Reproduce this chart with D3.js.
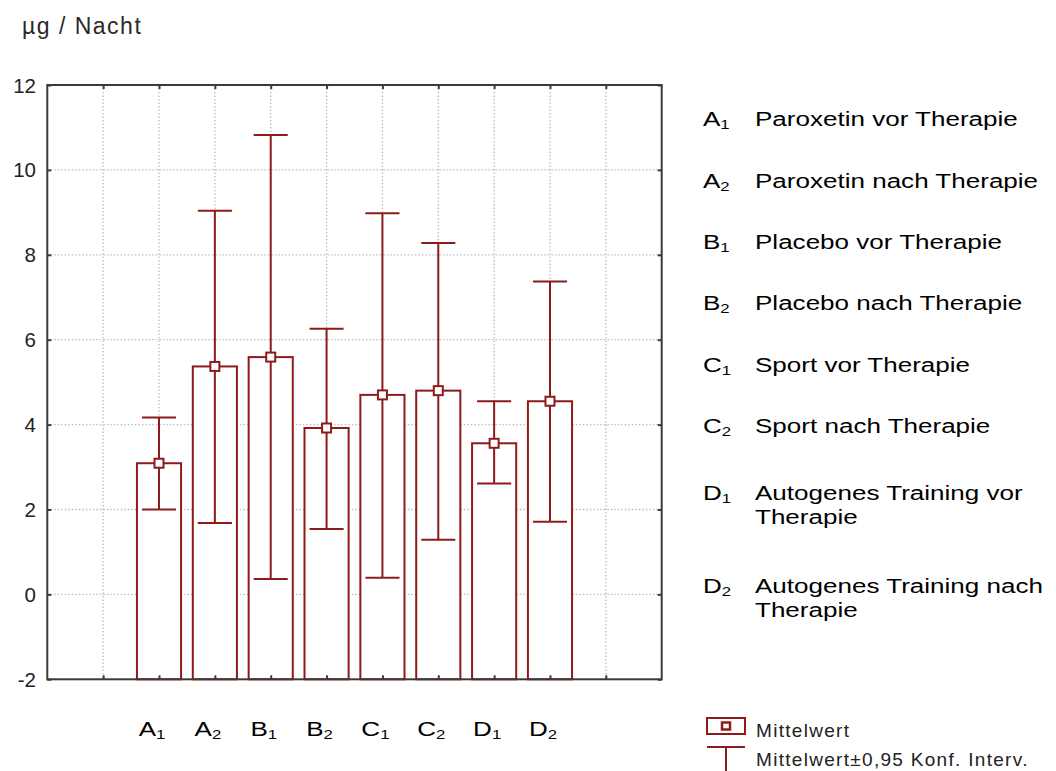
<!DOCTYPE html>
<html>
<head>
<meta charset="utf-8">
<script src="https://cdn.jsdelivr.net/npm/d3@7"></script>
<style>
  html, body { margin: 0; padding: 0; background: #fff; }
  svg { display: block; }
</style>
</head>
<body>
<svg id="chart" width="1056" height="771"></svg>
<script>
// ---- data ----
const categories = ["A1", "A2", "B1", "B2", "C1", "C2", "D1", "D2"];
const means  = [3.09, 5.37, 5.59, 3.92, 4.70, 4.80, 3.56, 4.55];
const ciLow  = [2.00, 1.68, 0.36, 1.54, 0.39, 1.29, 2.61, 1.71];
const ciHigh = [4.17, 9.04, 10.82, 6.26, 8.98, 8.28, 4.55, 7.37];
const yTicks = [-2, 0, 2, 4, 6, 8, 10, 12];
const xGridPositions = [1, 2, 3, 4, 5, 6, 7, 8, 9, 10];
const descriptions = [
  ["Paroxetin vor Therapie"],
  ["Paroxetin nach Therapie"],
  ["Placebo vor Therapie"],
  ["Placebo nach Therapie"],
  ["Sport vor Therapie"],
  ["Sport nach Therapie"],
  ["Autogenes Training vor", "Therapie"],
  ["Autogenes Training nach", "Therapie"]
];
const yTitle = "µg / Nacht";
const legendMean = "Mittelwert";
const legendCI = "Mittelwert±0,95 Konf. Interv.";

// ---- layout ----
const RED = "#8e1b1b";
const AXIS = "#3a3a3a";
const GRID = "#bdbdbd";
const FONT = "Liberation Sans, Arial, sans-serif";
const SX = 1.24; // horizontal stretch of the annotation text
const pLeft = 47.3, pRight = 661.7, pTop = 85, pBottom = 679.3;

const svg = d3.select("#chart");
const x = d3.scaleLinear().domain([0, 11]).range([pLeft, pRight]);
const y = d3.scaleLinear().domain([-2, 12]).range([pBottom, pTop]);
const catPos = i => x(i + 2);
const barW = x(0.79) - x(0);
const capW = x(0.61) - x(0);

// gridlines
const g = svg.append("g");
g.selectAll("line.hg").data(yTicks.filter(v => v > -2 && v < 12)).join("line")
  .attr("x1", pLeft).attr("x2", pRight)
  .attr("y1", d => y(d)).attr("y2", d => y(d))
  .attr("stroke", GRID).attr("stroke-width", 1.3).attr("stroke-dasharray", "1.5,2");
g.selectAll("line.vg").data(xGridPositions).join("line")
  .attr("y1", pTop).attr("y2", pBottom)
  .attr("x1", d => x(d)).attr("x2", d => x(d))
  .attr("stroke", GRID).attr("stroke-width", 1.3).attr("stroke-dasharray", "1.5,2");

// bars
const idx = d3.range(categories.length);
svg.append("g").selectAll("rect").data(idx).join("rect")
  .attr("x", i => catPos(i) - barW / 2)
  .attr("width", barW)
  .attr("y", i => y(means[i]))
  .attr("height", i => y(-2) - y(means[i]))
  .attr("fill", "#fff")
  .attr("stroke", RED).attr("stroke-width", 2);

// whiskers
const w = svg.append("g").attr("stroke", RED).attr("stroke-width", 2);
w.selectAll("line.v").data(idx).join("line")
  .attr("x1", i => catPos(i)).attr("x2", i => catPos(i))
  .attr("y1", i => y(ciLow[i])).attr("y2", i => y(ciHigh[i]));
w.selectAll("line.lo").data(idx).join("line")
  .attr("x1", i => catPos(i) - capW / 2).attr("x2", i => catPos(i) + capW / 2)
  .attr("y1", i => y(ciLow[i])).attr("y2", i => y(ciLow[i]));
w.selectAll("line.hi").data(idx).join("line")
  .attr("x1", i => catPos(i) - capW / 2).attr("x2", i => catPos(i) + capW / 2)
  .attr("y1", i => y(ciHigh[i])).attr("y2", i => y(ciHigh[i]));

// mean markers
svg.append("g").selectAll("rect").data(idx).join("rect")
  .attr("x", i => catPos(i) - 4.5).attr("y", i => y(means[i]) - 4.5)
  .attr("width", 9).attr("height", 9)
  .attr("fill", "#fff").attr("stroke", RED).attr("stroke-width", 2);

// frame
svg.append("rect").attr("x", pLeft).attr("y", pTop)
  .attr("width", pRight - pLeft).attr("height", pBottom - pTop)
  .attr("fill", "none").attr("stroke", AXIS).attr("stroke-width", 2);

// axis ticks (inward)
const yAxisL = d3.axisLeft(y).tickValues(yTicks).tickSize(-4).tickFormat("");
const yAxisR = d3.axisRight(y).tickValues(yTicks).tickSize(-4).tickFormat("");
const xAxisB = d3.axisBottom(x).tickValues(xGridPositions).tickSize(-4).tickFormat("");
const xAxisT = d3.axisTop(x).tickValues(xGridPositions).tickSize(-4).tickFormat("");
function styleAxis(sel) {
  sel.select(".domain").remove();
  sel.selectAll(".tick line").attr("stroke", AXIS).attr("stroke-width", 2);
}
svg.append("g").attr("transform", `translate(${pLeft},0)`).call(yAxisL).call(styleAxis);
svg.append("g").attr("transform", `translate(${pRight},0)`).call(yAxisR).call(styleAxis);
svg.append("g").attr("transform", `translate(0,${pBottom})`).call(xAxisB).call(styleAxis);
svg.append("g").attr("transform", `translate(0,${pTop})`).call(xAxisT).call(styleAxis);

// y tick labels
svg.append("g").selectAll("text").data(yTicks).join("text")
  .attr("x", 36).attr("y", d => y(d) + 7.5)
  .attr("text-anchor", "end")
  .attr("font-family", FONT)
  .attr("font-size", 20.5).attr("fill", "#222")
  .text(d => d);

// y title
svg.append("text").attr("x", 22).attr("y", 34)
  .attr("font-family", FONT)
  .attr("font-size", 23).attr("letter-spacing", 1.5).attr("fill", "#2a2a2a")
  .text(yTitle);

// x category labels with subscripts (stretched)
const xl = svg.append("g").selectAll("g").data(idx).join("g")
  .attr("transform", i => `translate(${catPos(i) - 7},736) scale(${SX},1)`)
  .append("text")
  .attr("text-anchor", "middle")
  .attr("font-family", FONT)
  .attr("font-size", 21).attr("fill", "#000");
xl.append("tspan").text(i => categories[i][0]);
xl.append("tspan").attr("font-size", 13.5).attr("dy", 3).text(i => categories[i].slice(1));

// right legend of categories (stretched)
const rowY = [126, 187.5, 249, 310, 371.5, 433, 500, 593];
const leg = svg.append("g")
  .attr("font-family", FONT)
  .attr("font-size", 21).attr("fill", "#000");
idx.forEach(i => {
  const code = leg.append("g").attr("transform", `translate(703,${rowY[i]}) scale(${SX},1)`)
    .append("text");
  code.append("tspan").text(categories[i][0]);
  code.append("tspan").attr("font-size", 13.5).attr("dy", 3).text(categories[i].slice(1));
  descriptions[i].forEach((line, k) => {
    leg.append("g").attr("transform", `translate(755,${rowY[i] + k * 23.5}) scale(${SX},1)`)
      .append("text").text(line);
  });
});

// bottom legend (mean / CI)
const bl = svg.append("g");
bl.append("rect").attr("x", 707).attr("y", 718).attr("width", 38).attr("height", 16)
  .attr("fill", "#fff").attr("stroke", RED).attr("stroke-width", 2);
bl.append("rect").attr("x", 722).attr("y", 722.5).attr("width", 8).attr("height", 7)
  .attr("fill", "#fff").attr("stroke", RED).attr("stroke-width", 2.5);
bl.append("line").attr("x1", 707).attr("x2", 745).attr("y1", 747).attr("y2", 747)
  .attr("stroke", RED).attr("stroke-width", 2);
bl.append("line").attr("x1", 726).attr("x2", 726).attr("y1", 747).attr("y2", 771)
  .attr("stroke", RED).attr("stroke-width", 2);
bl.append("text").attr("x", 756).attr("y", 737)
  .attr("font-family", FONT)
  .attr("font-size", 19).attr("letter-spacing", 1.3).attr("fill", "#222")
  .text(legendMean);
bl.append("text").attr("x", 756).attr("y", 766)
  .attr("font-family", FONT)
  .attr("font-size", 19).attr("letter-spacing", 1.3).attr("fill", "#222")
  .text(legendCI);
</script>
</body>
</html>
